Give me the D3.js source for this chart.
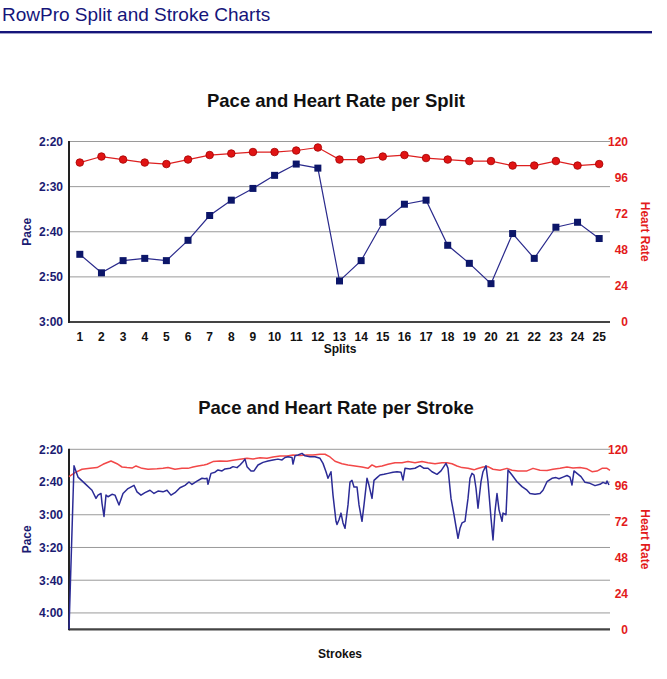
<!DOCTYPE html>
<html>
<head>
<meta charset="utf-8">
<script src="https://cdn.jsdelivr.net/npm/d3@7"></script>
<style>
  html, body { margin: 0; padding: 0; background: #fff; }
  svg { display: block; font-family: "Liberation Sans", Arial, Helvetica, sans-serif; }
</style>
</head>
<body>
<svg id="chart" width="667" height="679"></svg>
<script>
// ---------- DATA ----------
const pageTitle = "RowPro Split and Stroke Charts";
const splitTitle = "Pace and Heart Rate per Split";
const strokeTitle = "Pace and Heart Rate per Stroke";

const splits = d3.range(1, 26);
// pace per split in seconds per 500m
const splitPace = [165, 169.1, 166.4, 165.9, 166.4, 161.9, 156.4, 153, 150.4, 147.5, 145, 145.9,
                   170.9, 166.4, 157.9, 153.9, 153, 163, 167, 171.5, 160.4, 165.9, 159, 157.9, 161.5];
const splitHR = [106, 110, 108, 106, 105, 108, 111, 112, 113, 113, 114, 116,
                 108, 108, 110, 111, 109, 108, 107, 107, 104, 104, 107, 104, 105];

const splitPaceTicks = [140, 150, 160, 170, 180];
const splitHRTicks = [0, 24, 48, 72, 96, 120];

// per-stroke series: stroke number and value
const strokePaceN = [0, 5, 9, 16, 23, 27, 29, 32, 33, 35, 37, 39, 43, 46, 50, 54, 59, 65, 68, 72, 76, 81, 85, 89, 94, 98,
  102, 106, 111, 116, 120, 123, 128, 133, 136, 138, 139, 142, 146, 149, 153, 156, 161, 164, 168, 171, 174, 176, 178, 182,
  185, 189, 194, 199, 204, 209, 213, 216, 219, 223, 224, 226, 229, 233, 236, 241, 246, 251, 254, 257, 259, 262, 264, 267,
  268, 270, 272, 274, 276, 279, 281, 283, 285, 288, 290, 293, 295, 298, 300, 303, 305, 308, 311, 315, 319, 324, 328, 332,
  334, 336, 341, 346, 351, 355, 359, 363, 368, 372, 377, 379, 382, 385, 389, 391, 393, 396, 399, 401, 403, 405, 407, 409,
  412, 414, 417, 419, 422, 424, 426, 428, 430, 433, 434, 437, 439, 443, 448, 453, 458, 461, 466, 471, 474, 478, 483, 487,
  490, 494, 498, 501, 503, 505, 508, 512, 516, 521, 526, 531, 534, 537, 538, 540];
const strokePace = [250, 150, 157, 161, 165, 170, 168, 167, 173, 181, 168, 169, 167.5, 168, 174, 167, 164, 162, 166, 168,
  166.5, 165, 167, 165.5, 166, 165, 168, 166.5, 163.5, 162, 160, 161.5, 159.5, 157.7, 158, 157.7, 161.4, 154.7, 154, 152.6,
  153.2, 152, 151.6, 150.6, 151.2, 149.6, 147.6, 146, 150.6, 153.2, 153.2, 149.6, 148, 147.2, 146.5, 146, 146.5, 145, 144.5,
  145, 149, 144, 143.5, 142.5, 144, 144.5, 144.5, 145.5, 148.6, 153.7, 157.7, 153.7, 168, 184, 186, 183, 179, 185, 188.3,
  174, 160, 159, 163, 163, 174, 184, 174, 157.7, 162, 170, 159, 157.3, 155.7, 155.3, 154.7, 154, 153.7, 154, 158.8, 151.6,
  152, 151.6, 150, 151.6, 151.6, 153.7, 155.3, 153.2, 148.6, 151.6, 170, 180, 194.4, 188.3, 185, 184, 170, 157.7, 154.7,
  155.7, 163.8, 176, 159.8, 153.7, 150, 159.8, 182, 195.4, 178, 167, 177, 184, 179, 180, 152.6, 155.7, 159.8, 162.8, 165,
  167, 167.5, 167, 165, 159.8, 157.7, 157.3, 158, 157, 156, 157, 161.8, 153.2, 154.7, 156.7, 160.2, 160.8, 162.2, 161.4,
  160.2, 161, 159.4, 161.8];

const strokeHRN = [0, 6, 13, 21, 28, 34, 42, 48, 53, 58, 63, 67, 73, 79, 88, 94, 99, 106, 113, 119, 124, 129, 135, 138,
  144, 151, 158, 164, 171, 178, 184, 191, 198, 204, 211, 218, 224, 231, 238, 244, 251, 256, 261, 266, 273, 279, 286, 293,
  299, 303, 307, 313, 319, 326, 333, 339, 346, 353, 359, 366, 373, 378, 383, 388, 393, 399, 405, 408, 414, 419, 424, 431,
  438, 443, 449, 458, 464, 471, 478, 484, 491, 498, 504, 511, 518, 523, 528, 533, 538, 541];
const strokeHR = [101.8, 104.4, 106.7, 107.3, 107.8, 110, 112.2, 110.4, 108.2, 107.8, 107.5, 108.9, 107.3, 106.7, 107,
  107.3, 107.8, 106.7, 107.3, 107.3, 108.2, 108.9, 109.6, 110, 111.8, 112.2, 112, 112.7, 113.3, 114, 113.5, 114.4, 114,
  114.9, 115.6, 115.6, 116.2, 115.8, 116.2, 116.2, 116.7, 116.7, 114.9, 112, 110.4, 109.6, 108.9, 108.2, 107.3, 109.6,
  108.2, 108.9, 110, 111.1, 111.1, 111.8, 111.1, 111.8, 111.1, 110.4, 111.1, 111.1, 110.4, 108.9, 107.8, 107.3, 106.3, 107,
  108.2, 108.5, 106.7, 106, 107.3, 106, 105.6, 105.6, 107.3, 106, 105.8, 106.7, 107.3, 108.2, 107.5, 107.8, 107, 105.1,
  105.5, 107.3, 107.3, 106];
const strokeCount = 541;

const strokePaceTicks = [140, 160, 180, 200, 220, 240];
const strokeHRTicks = [0, 24, 48, 72, 96, 120];

// ---------- DRAW ----------
const svg = d3.select("#chart");
const navy = "#1b1b72";
const red = "#e31b1b";
const fmt = s => Math.floor(s / 60) + ":" + String(Math.round(s % 60)).padStart(2, "0");

// page header
svg.append("text").attr("x", 2).attr("y", 21).attr("font-size", 19).attr("fill", "#15157a")
  .text(pageTitle);
svg.append("rect").attr("x", 0).attr("y", 31).attr("width", 652).attr("height", 2.4).attr("fill", "#15157a");

function frame(opt) {
  const g = svg.append("g");
  const left = 69, right = 610;
  const yL = d3.scaleLinear().domain(opt.paceDomain).range([opt.top, opt.bottom]);
  const yR = d3.scaleLinear().domain([0, 120]).range([opt.bottom, opt.top]);

  g.append("text").attr("x", 336).attr("y", opt.titleY).attr("text-anchor", "middle")
    .attr("font-size", 18.5).attr("font-weight", "bold").attr("fill", "#111").text(opt.title);

  // gridlines (not on the bottom axis position)
  g.append("g").selectAll("line").data(opt.paceTicks.filter(t => yL(t) < opt.bottom - 1)).join("line")
    .attr("x1", left).attr("x2", right)
    .attr("y1", d => yL(d)).attr("y2", d => yL(d))
    .attr("stroke", "#9a9a9a").attr("stroke-width", 1);

  // left axis labels
  const la = g.append("g").attr("transform", `translate(${left},0)`)
    .call(d3.axisLeft(yL).tickValues(opt.paceTicks).tickFormat(fmt).tickSize(0).tickPadding(6));
  la.select(".domain").remove();
  la.selectAll("text").attr("font-size", 12).attr("font-weight", "bold").attr("fill", navy)
    .attr("font-family", "Liberation Sans, Arial, sans-serif");

  // right axis labels
  const ra = g.append("g").attr("transform", `translate(628,0)`)
    .call(d3.axisLeft(yR).tickValues(opt.hrTicks).tickSize(0).tickPadding(0));
  ra.select(".domain").remove();
  ra.selectAll("text").attr("font-size", 12).attr("font-weight", "bold").attr("fill", red)
    .attr("font-family", "Liberation Sans, Arial, sans-serif");

  // axis lines
  g.append("line").attr("x1", left).attr("x2", right).attr("y1", opt.bottom).attr("y2", opt.bottom)
    .attr("stroke", "#444").attr("stroke-width", 2.2);
  g.append("line").attr("x1", left).attr("x2", left).attr("y1", opt.top - 0.5).attr("y2", opt.bottom + 1)
    .attr("stroke", "#222").attr("stroke-width", 2);

  // axis titles
  g.append("text").attr("transform", `translate(31,${(opt.top + opt.bottom) / 2}) rotate(-90)`)
    .attr("text-anchor", "middle").attr("font-size", 12).attr("font-weight", "bold").attr("fill", navy).text("Pace");
  g.append("text").attr("transform", `translate(641,${(opt.top + opt.bottom) / 2}) rotate(90)`)
    .attr("text-anchor", "middle").attr("font-size", 12).attr("font-weight", "bold").attr("fill", red).text("Heart Rate");

  g.append("text").attr("x", 340).attr("y", opt.xTitleY).attr("text-anchor", "middle")
    .attr("font-size", 12).attr("font-weight", "bold").attr("fill", "#111").text(opt.xTitle);

  return { g, yL, yR, left, right };
}

// ---- Split chart ----
{
  const f = frame({ top: 141.5, bottom: 322, paceDomain: [140, 180], paceTicks: splitPaceTicks,
    hrTicks: splitHRTicks, title: splitTitle, titleY: 107, xTitle: "Splits", xTitleY: 353 });
  const x = d3.scaleBand().domain(splits).range([f.left, f.right]);
  const cx = d => x(d) + x.bandwidth() / 2;

  f.g.append("g").selectAll("text").data(splits).join("text")
    .attr("x", d => cx(d)).attr("y", 341).attr("text-anchor", "middle")
    .attr("font-size", 12).attr("font-weight", "bold").attr("fill", "#111").text(d => d);

  const hrLine = d3.line().x((d, i) => cx(splits[i])).y(d => f.yR(d));
  f.g.append("path").datum(splitHR).attr("d", hrLine).attr("fill", "none")
    .attr("stroke", "#dd2020").attr("stroke-width", 1.2);
  f.g.append("g").selectAll("circle").data(splitHR).join("circle")
    .attr("cx", (d, i) => cx(splits[i])).attr("cy", d => f.yR(d)).attr("r", 3.8)
    .attr("fill", "#e01414").attr("stroke", "#a50000").attr("stroke-width", 0.8);

  const pLine = d3.line().x((d, i) => cx(splits[i])).y(d => f.yL(d));
  f.g.append("path").datum(splitPace).attr("d", pLine).attr("fill", "none")
    .attr("stroke", "#2a2a8c").attr("stroke-width", 1.2);
  f.g.append("g").selectAll("rect").data(splitPace).join("rect")
    .attr("x", (d, i) => cx(splits[i]) - 3.5).attr("y", d => f.yL(d) - 3.5)
    .attr("width", 7).attr("height", 7).attr("fill", "#0c1669");
}

// ---- Stroke chart ----
{
  const f = frame({ top: 449.3, bottom: 629.3, paceDomain: [140, 250], paceTicks: strokePaceTicks,
    hrTicks: strokeHRTicks, title: strokeTitle, titleY: 414, xTitle: "Strokes", xTitleY: 658 });
  const x = d3.scaleLinear().domain([0, strokeCount]).range([f.left, f.right]);

  const hrLine = d3.line().x((d, i) => x(strokeHRN[i])).y(d => f.yR(d));
  f.g.append("path").datum(strokeHR).attr("d", hrLine).attr("fill", "none")
    .attr("stroke", "#f24848").attr("stroke-width", 1.5).attr("stroke-linejoin", "round");

  const pLine = d3.line().x((d, i) => x(strokePaceN[i])).y(d => f.yL(d));
  f.g.append("path").datum(strokePace).attr("d", pLine).attr("fill", "none")
    .attr("stroke", "#2b2b96").attr("stroke-width", 1.5).attr("stroke-linejoin", "round");
}
</script>
</body>
</html>
